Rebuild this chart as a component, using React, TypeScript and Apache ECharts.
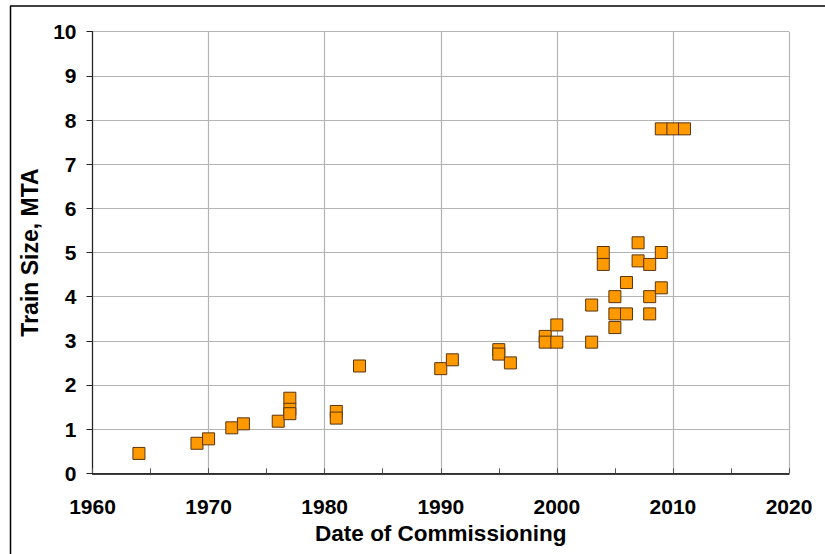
import React, { useEffect, useRef } from "react";
import * as echarts from "echarts";

const years = [
  1964, 1969, 1970, 1972, 1973, 1976, 1977, 1977, 1977, 1981, 1981, 1983,
  1990, 1991, 1995, 1995, 1996, 1999, 1999, 2000, 2000, 2003, 2003, 2004,
  2004, 2005, 2005, 2005, 2006, 2006, 2007, 2007, 2008, 2008, 2008, 2009,
  2009, 2009, 2010, 2011,
];
const trainSize = [
  0.45, 0.68, 0.78, 1.03, 1.12, 1.18, 1.7, 1.45, 1.35, 1.4, 1.25, 2.43,
  2.37, 2.57, 2.8, 2.7, 2.5, 3.1, 2.97, 3.36, 2.97, 3.81, 2.97, 5.0,
  4.73, 4.0, 3.61, 3.3, 4.32, 3.61, 5.22, 4.81, 4.73, 4.0, 3.61, 5.0,
  4.2, 7.8, 7.8, 7.8,
];
const xTitle = "Date of Commissioning";
const yTitle = "Train Size, MTA";

export default function App() {
  const ref = useRef<HTMLDivElement>(null);
  useEffect(() => {
    if (!ref.current) return;
    const chart = echarts.init(ref.current, null, { renderer: "svg" });
    const font = "'Liberation Sans', Arial, sans-serif";
    const data = years.map((y, i) => [y, trainSize[i]]);
    chart.setOption({
      animation: false,
      backgroundColor: "#ffffff",
      grid: { left: 92.5, right: 36, top: 31.7, bottom: 80.7 },
      xAxis: {
        type: "value",
        min: 1960,
        max: 2020,
        interval: 10,
        name: xTitle,
        nameLocation: "middle",
        nameGap: 48,
        nameTextStyle: { fontFamily: font, fontWeight: "bold", fontSize: 22.5, color: "#000" },
        axisLine: { show: true, onZero: false, lineStyle: { color: "#000", width: 1.5 } },
        axisTick: { show: true, inside: true, length: 5, lineStyle: { color: "#555" } },
        minorTick: { show: true, splitNumber: 2, length: 5, lineStyle: { color: "#555" } },
        axisLabel: {
          fontFamily: font,
          fontWeight: "bold",
          fontSize: 21,
          color: "#000",
          margin: 23,
          formatter: (v: number) => String(v),
        },
        splitLine: { show: true, lineStyle: { color: "#b4b4b4", width: 1.2 } },
      },
      yAxis: {
        type: "value",
        min: 0,
        max: 10,
        interval: 1,
        name: yTitle,
        nameLocation: "middle",
        nameGap: 51,
        nameTextStyle: { fontFamily: font, fontWeight: "bold", fontSize: 23, color: "#000" },
        axisLine: { show: true, onZero: false, lineStyle: { color: "#222", width: 1.2 } },
        axisTick: { show: true, inside: false, length: 6, lineStyle: { color: "#222" } },
        axisLabel: {
          fontFamily: font,
          fontWeight: "bold",
          fontSize: 21,
          color: "#000",
          margin: 16,
          formatter: (v: number) => String(v),
        },
        splitLine: { show: true, lineStyle: { color: "#b4b4b4", width: 1.2 } },
      },
      graphic: [
        { type: "line", shape: { x1: 10, y1: 6, x2: 825, y2: 6 }, style: { stroke: "#000", lineWidth: 1.5 } },
        { type: "line", shape: { x1: 10.5, y1: 6, x2: 10.5, y2: 554 }, style: { stroke: "#000", lineWidth: 1.5 } },
      ],
      series: [
        {
          type: "scatter",
          data,
          symbol: "rect",
          symbolSize: 12,
          itemStyle: { color: "#ff9900", opacity: 1, borderColor: "#5a3410", borderWidth: 1 },
        },
      ],
    });
    return () => chart.dispose();
  }, []);
  return (
    <div
      ref={ref}
      style={{ position: "fixed", left: 0, top: 0, width: 825, height: 554 }}
    />
  );
}
